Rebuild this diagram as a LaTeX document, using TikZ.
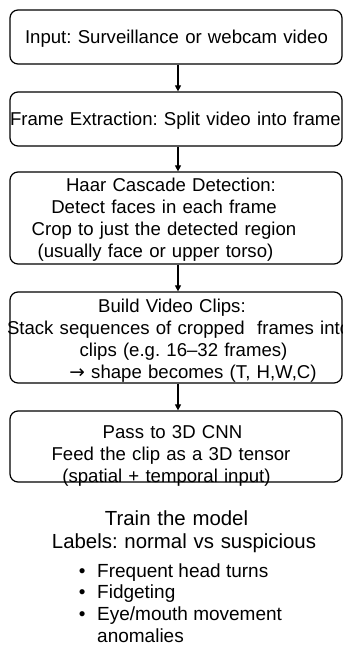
\documentclass[tikz,border=0pt]{standalone}
\usepackage{fontspec}
\setmainfont{Liberation Sans}
\newfontfamily\arrowfont{DejaVu Sans}
\usetikzlibrary{arrows.meta}
\frenchspacing
% a line centred with a horizontal offset (#1 = twice the offset)
\newcommand\shiftc[2]{\makebox[0pt]{\hspace*{#1}#2}}
% a line starting at a given distance from the node centre
\newcommand\froml[2]{\makebox[0pt][l]{\hspace*{#1}#2}}
\newcommand\bul{\makebox[18.3pt][l]{•}}

\begin{document}
\begin{tikzpicture}[x=1pt,y=1pt,
  box/.style={draw, line width=1.2pt, rounded corners=8pt,
    minimum width=332pt, inner sep=0pt},
  txt/.style={align=center, font=\fontsize{18.6}{22}\selectfont,
    inner sep=0pt, text width=330pt},
  flow/.style={line width=1.2pt, -{Triangle[length=6pt,width=6pt]}}]
\clip (0,0) rectangle (343,646);
\fill[white] (0,0) rectangle (343,646);

% process boxes
\node[box, minimum height=54pt] (b1) at (176,609) {};
\node[box, minimum height=54pt] (b2) at (176,527) {};
\node[box, minimum height=92pt] (b3) at (176,428) {};
\node[box, minimum height=91pt] (b4) at (176,308.5) {};
\node[box, minimum height=71pt] (b5) at (176,199.5) {};

% box texts
\node[txt] (t1) at (176.5,607) {Input: Surveillance or webcam video};
\node[txt] (t2) at (176.5,525) {\froml{-166.5pt}{Frame Extraction: Split video into frame}};
\node[txt] (t3) at (176.5,426) {%
  \shiftc{-11pt}{Haar Cascade Detection:}\\
  \shiftc{-25pt}{Detect faces in each frame}\\
  \shiftc{-25pt}{Crop to just the detected region}\\
  \shiftc{-42pt}{(usually face or upper torso)}};
\node[txt] (t4) at (176.5,305) {%
  \shiftc{-9pt}{Build Video Clips:}\\
  \froml{-169.5pt}{Stack sequences of cropped\ \ frames into}\\
  \shiftc{14pt}{clips (e.g. 16–32 frames)}\\
  \shiftc{33pt}{{\arrowfont →} shape becomes (T, H,W,C)}};
\node[txt] (t5) at (176.5,190) {%
  \shiftc{-8pt}{Pass to 3D CNN}\\
  \shiftc{-11pt}{Feed the clip as a 3D tensor}\\
  \shiftc{-20pt}{(spatial + temporal input)}};

% connectors
\draw[flow] ([xshift=2pt]b1.south) -- ([xshift=2pt]b2.north);
\draw[flow] ([xshift=2pt]b2.south) -- ([xshift=2pt]b3.north);
\draw[flow] ([xshift=2pt]b3.south) -- ([xshift=2pt]b4.north);
\draw[flow] ([xshift=2pt]b4.south) -- ([xshift=2pt]b5.north);

% training notes
\node[txt, font=\fontsize{20.4}{23}\selectfont] (train) at (176.5,114.5) {%
  Train the model\\
  \shiftc{15pt}{Labels: normal vs suspicious}};
\node[align=left, inner sep=0pt, anchor=west,
  font=\fontsize{19}{21.7}\selectfont] (cues) at (78.7,43) {%
  \bul Frequent head turns\\
  \bul Fidgeting\\
  \bul Eye/mouth movement\\
  \hspace*{18.3pt}anomalies};
\end{tikzpicture}
\end{document}
